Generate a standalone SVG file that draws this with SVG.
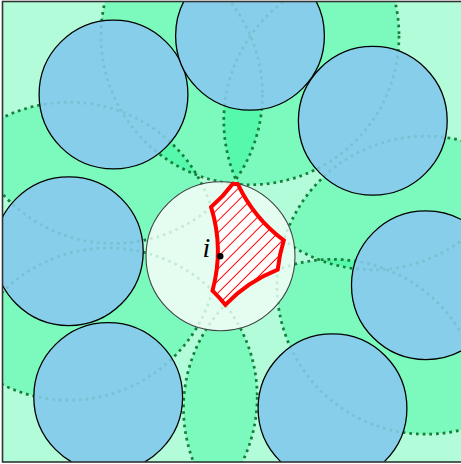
<svg xmlns="http://www.w3.org/2000/svg" width="461" height="464" viewBox="0 0 461 464">
<style>
.zone{fill:#00f582;fill-opacity:0.3;stroke:none}
.ring{fill:none;stroke:#17803a;stroke-width:2.7;stroke-dasharray:2.7 4}
.faint{stroke-opacity:0.15}
.disk{fill:#87ceeb;stroke:#000;stroke-width:1.3}
.target{fill:#e4fdf0;stroke:#444;stroke-width:1.1}
.free{fill:url(#hatch);stroke:#ff0000;stroke-width:4;stroke-linejoin:miter}
.lbl{font-family:"Liberation Serif","DejaVu Serif",serif;font-style:italic;font-size:28px;fill:#000}
</style>
<defs>
<clipPath id="frame"><rect x="2.5" y="1.5" width="470" height="460.5"/></clipPath>
<pattern id="hatch" patternUnits="userSpaceOnUse" width="8.5" height="8.5" patternTransform="rotate(45)">
<rect width="8.5" height="8.5" fill="#ffffff"/>
<line x1="4.25" y1="0" x2="4.25" y2="8.5" stroke="#ff0000" stroke-width="1"/>
</pattern>
<g id="rings">
<circle cx="113.5" cy="94.5" r="149"/>
<circle cx="250" cy="35.8" r="149"/>
<circle cx="372.8" cy="120.8" r="149"/>
<circle cx="68.8" cy="251.2" r="149"/>
<circle cx="108.2" cy="397" r="149"/>
<circle cx="332.5" cy="408.3" r="149"/>
<circle cx="425.9" cy="285.2" r="149"/>
</g>
</defs>
<rect width="461" height="464" fill="#ffffff"/>
<g clip-path="url(#frame)">
<g id="exclusion-zones">
<circle class="zone" cx="113.5" cy="94.5" r="149"/>
<circle class="zone" cx="250" cy="35.8" r="149"/>
<circle class="zone" cx="372.8" cy="120.8" r="149"/>
<circle class="zone" cx="68.8" cy="251.2" r="149"/>
<circle class="zone" cx="108.2" cy="397" r="149"/>
<circle class="zone" cx="332.5" cy="408.3" r="149"/>
<circle class="zone" cx="425.9" cy="285.2" r="149"/>
</g>
<g id="exclusion-rings">
<use href="#rings" class="ring"/>
</g>
<g id="disk-1"><circle class="disk" cx="113.5" cy="94.5" r="74.4"/></g>
<g id="disk-2"><circle class="disk" cx="250" cy="35.8" r="74.4"/></g>
<g id="disk-3"><circle class="disk" cx="372.8" cy="120.8" r="74.4"/></g>
<g id="disk-4"><circle class="disk" cx="68.8" cy="251.2" r="74.4"/></g>
<g id="disk-5"><circle class="disk" cx="108.2" cy="397" r="74.4"/></g>
<g id="disk-6"><circle class="disk" cx="332.5" cy="408.3" r="74.4"/></g>
<g id="disk-7"><circle class="disk" cx="425.9" cy="285.2" r="74.4"/></g>
<g id="disk-i-body"><circle class="target" cx="220.5" cy="256.3" r="74.5"/></g>
<g id="rings-through-disks">
<use href="#rings" class="ring faint"/>
</g>
<g id="disk-i">
<path class="free" d="M232.8,183.8 A149,149 0 0 0 238,184.3 A149,149 0 0 0 283.8,240.3 A149,149 0 0 0 277.7,269.7 A149,149 0 0 0 225.3,304.8 A149,149 0 0 0 212.5,290.6 A149,149 0 0 0 211.1,207.1 A149,149 0 0 0 232.8,183.8 Z"/>
<circle cx="220.3" cy="256.2" r="3.2" fill="#000"/>
<text class="lbl" x="202.5" y="256.5">i</text>
</g>
</g>
<rect x="2.5" y="1.5" width="470" height="460.5" fill="none" stroke="#333" stroke-width="1.6"/>
</svg>
